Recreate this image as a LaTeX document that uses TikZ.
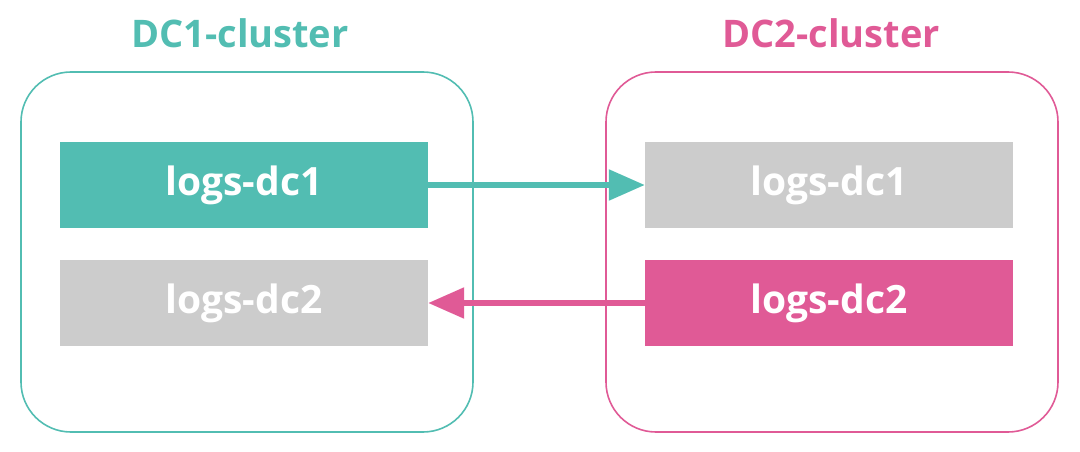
\documentclass[tikz,border=0pt]{standalone}
\usepackage{fontspec}
\setmainfont{Open Sans}
\usetikzlibrary{arrows.meta}
\definecolor{dcteal}{HTML}{52BDB2}
\definecolor{dcpink}{HTML}{E05A96}
\definecolor{dcgray}{HTML}{CCCCCC}
\begin{document}
\begin{tikzpicture}[x=1pt, y=-1pt]
        \tikzstyle{cluster} = [rectangle, rounded corners=50pt, line width=1.6pt, minimum width=452pt, minimum height=360pt, inner sep=0pt]
        \tikzstyle{logbox} = [rectangle, minimum width=368pt, minimum height=86pt, inner sep=0pt, text=white, font=\fontsize{39}{46}\selectfont\bfseries]
        \tikzstyle{title} = [anchor=base, inner sep=0pt, font=\fontsize{38}{46}\selectfont\bfseries]
        \tikzstyle{link} = [line width=5.5pt, -{Triangle[length=36pt, width=30pt]}]
        \useasboundingbox (0,0) rectangle (1080,452);
        \node[title, text=dcteal](DC1 title) at (240,48) {DC1-cluster};
        \node[title, text=dcpink](DC2 title) at (831,48) {DC2-cluster};
        \node[cluster, draw=dcteal](DC1) at (247,252) {};
        \node[cluster, draw=dcpink](DC2) at (832,252) {};
        \node[logbox, fill=dcteal](DC1 dc1) at (244,185) {logs-dc1};
        \node[logbox, fill=dcgray](DC1 dc2) at (244,303) {logs-dc2};
        \node[logbox, fill=dcgray](DC2 dc1) at (829,185) {logs-dc1};
        \node[logbox, fill=dcpink](DC2 dc2) at (829,303) {logs-dc2};
        \draw [link, dcteal] (DC1 dc1) -- (DC2 dc1);
        \draw [link, dcpink] (DC2 dc2) -- (DC1 dc2);

    \end{tikzpicture}
\end{document}
